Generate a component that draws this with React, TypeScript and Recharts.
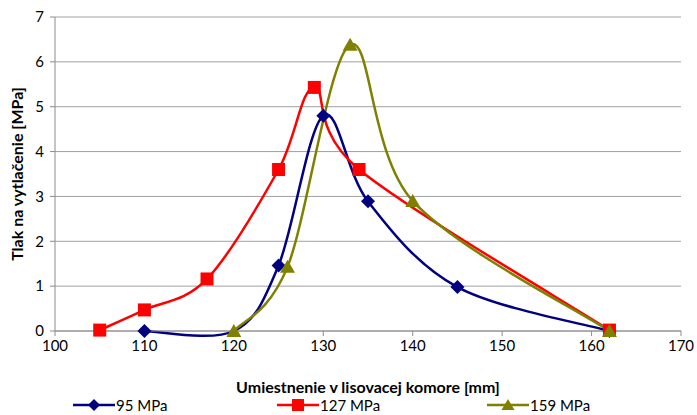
import React from 'react'
import { LineChart, Line, XAxis, YAxis, CartesianGrid, Legend } from 'recharts'

// poloha v komore [mm] a tlak [MPa] pre jednotlivé série
const x95 = [110, 120, 125, 130, 135, 145, 162]
const y95 = [0, 0, 1.46, 4.8, 2.89, 0.98, 0]
const x127 = [105, 110, 117, 125, 129, 134, 162]
const y127 = [0.02, 0.47, 1.16, 3.6, 5.43, 3.6, 0.02]
const x159 = [120, 126, 133, 140, 162]
const y159 = [0, 1.43, 6.38, 2.9, 0]
const xTicks = [100, 110, 120, 130, 140, 150, 160, 170]
const yTicks = [0, 1, 2, 3, 4, 5, 6, 7]

const NAVY = '#000080'
const RED = '#ff0000'
const OLIVE = '#808000'
const FONT = 'Lato, "Open Sans", sans-serif'

const toRows = (xs: number[], ys: number[]) => xs.map((x, i) => ({ x, y: ys[i] }))
const d95 = toRows(x95, y95)
const d127 = toRows(x127, y127)
const d159 = toRows(x159, y159)

// vyhladená čiara ako v Exceli (Catmull-Rom cez body)
const smoothCurve = (context: any) => {
  let pts: [number, number][] = []
  return {
    areaStart() {},
    areaEnd() {},
    lineStart() {
      pts = []
    },
    lineEnd() {
      const n = pts.length
      if (!n) return
      context.moveTo(pts[0][0], pts[0][1])
      for (let i = 0; i < n - 1; i++) {
        const p0 = pts[Math.max(i - 1, 0)]
        const p1 = pts[i]
        const p2 = pts[i + 1]
        const p3 = pts[Math.min(i + 2, n - 1)]
        context.bezierCurveTo(
          p1[0] + (p2[0] - p0[0]) / 6,
          p1[1] + (p2[1] - p0[1]) / 6,
          p2[0] - (p3[0] - p1[0]) / 6,
          p2[1] - (p3[1] - p1[1]) / 6,
          p2[0],
          p2[1]
        )
      }
    },
    point(x: number, y: number) {
      pts.push([x, y])
    },
  }
}

const Diamond = ({ cx, cy, color, r = 7 }: any) => (
  <path d={`M${cx},${cy - r}L${cx + r},${cy}L${cx},${cy + r}L${cx - r},${cy}Z`} fill={color} />
)
const Square = ({ cx, cy, color, r = 6.5 }: any) => (
  <rect x={cx - r} y={cy - r} width={2 * r} height={2 * r} fill={color} />
)
const Triangle = ({ cx, cy, color, r = 7 }: any) => (
  <path d={`M${cx},${cy - r}L${cx + r + 0.5},${cy + r - 1}L${cx - r - 0.5},${cy + r - 1}Z`} fill={color} />
)

// značka 95 MPa na 120 mm je v origináli skrytá pod trojuholníkom
const series = [
  { name: '95 MPa', data: d95, color: NAVY, Marker: Diamond, left: 73, hidden: [120] },
  { name: '127 MPa', data: d127, color: RED, Marker: Square, left: 277, hidden: [] as number[] },
  { name: '159 MPa', data: d159, color: OLIVE, Marker: Triangle, left: 487, hidden: [] as number[] },
]

const renderLegend = () => (
  <div style={{ position: 'relative', height: 20, width: 697, fontFamily: FONT, fontSize: 15 }}>
    {series.map((s) => (
      <div key={s.name} style={{ position: 'absolute', left: s.left, top: 0, display: 'flex', alignItems: 'center' }}>
        <svg width={42} height={20}>
          <line x1={0} y1={10} x2={42} y2={10} stroke={s.color} strokeWidth={2.5} />
          <s.Marker cx={21} cy={10} color={s.color} r={6} />
        </svg>
        <span style={{ marginLeft: 1, color: '#000' }}>{s.name}</span>
      </div>
    ))}
  </div>
)

export default function App() {
  return (
    <div style={{ position: 'absolute', left: 0, top: 0, background: '#fff' }}>
      <LineChart width={697} height={415} margin={{ top: 17, right: 16, bottom: 0, left: 0 }}>
        <CartesianGrid horizontal vertical={false} stroke="#a0a0a0" />
        <XAxis
          type="number"
          dataKey="x"
          domain={[100, 170]}
          ticks={xTicks}
          allowDuplicatedCategory={false}
          height={64}
          stroke="#8c8c8c"
          tickSize={5}
          tick={{ fill: '#000', fontFamily: FONT, fontSize: 15 }}
          tickMargin={4}
          label={{
            value: 'Umiestnenie v lisovacej komore [mm]',
            position: 'insideBottom',
            offset: 2,
            style: { fill: '#000', fontFamily: FONT, fontSize: 16, fontWeight: 700 },
          }}
        />
        <YAxis
          type="number"
          domain={[0, 7]}
          ticks={yTicks}
          width={55}
          stroke="#8c8c8c"
          tickSize={5}
          tick={{ fill: '#000', fontFamily: FONT, fontSize: 15 }}
          tickMargin={6}
          label={{
            value: 'Tlak na vytlačenie [MPa]',
            angle: -90,
            position: 'insideLeft',
            offset: 17,
            style: { textAnchor: 'middle', fill: '#000', fontFamily: FONT, fontSize: 16, fontWeight: 700 },
          }}
        />
        {series.map((s) => (
          <Line
            key={s.name}
            data={s.data}
            dataKey="y"
            name={s.name}
            type={smoothCurve as any}
            stroke={s.color}
            strokeWidth={2.5}
            isAnimationActive={false}
            dot={(p: any) =>
              s.hidden.includes(p.payload?.x) ? (
                <g key={`${s.name}-${p.index}`} />
              ) : (
                <s.Marker key={`${s.name}-${p.index}`} cx={p.cx} cy={p.cy} color={s.color} />
              )
            }
            activeDot={false}
          />
        ))}
        <Legend verticalAlign="bottom" height={20} content={renderLegend} />
      </LineChart>
    </div>
  )
}
